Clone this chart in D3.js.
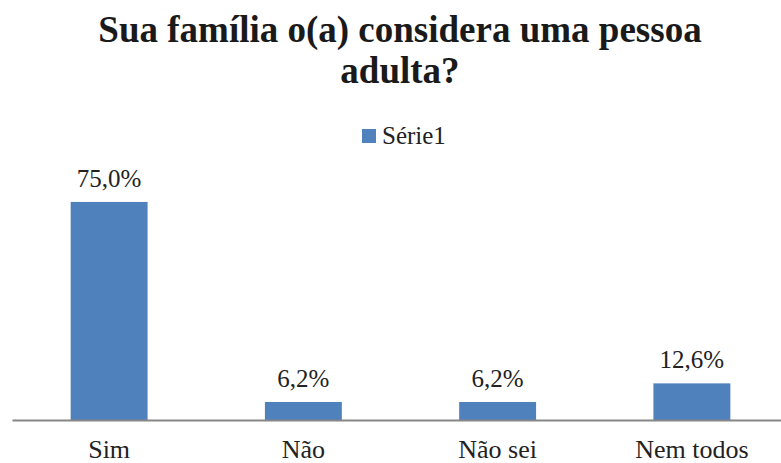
<!DOCTYPE html>
<html>
<head>
<meta charset="utf-8">
<script src="https://cdn.jsdelivr.net/npm/d3@7"></script>
<style>
  body { margin: 0; background: #fff; }
</style>
</head>
<body>
<script>
var categories = ["Sim", "Não", "Não sei", "Nem todos"];
var values = [75.0, 6.2, 6.2, 12.6];
var seriesName = "Série1";
var titleLines = ["Sua família o(a) considera uma pessoa", "adulta?"];

var font = "Liberation Serif";
var width = 781, height = 463;
var baseY = 420;

var svg = d3.select("body").append("svg")
    .attr("width", width)
    .attr("height", height);

// title
svg.append("g").selectAll("text")
  .data(titleLines)
  .enter().append("text")
    .attr("x", 400)
    .attr("y", function(d, i) { return 42 + i * 41; })
    .attr("text-anchor", "middle")
    .style("font-family", font)
    .style("font-size", "37px")
    .style("font-weight", "bold")
    .style("fill", "#1a1a1a")
    .text(function(d) { return d; });

// legend
var legend = svg.append("g").attr("transform", "translate(362,129)");
legend.append("rect")
    .attr("width", 14).attr("height", 14)
    .style("fill", "#4F81BD");
legend.append("text")
    .attr("x", 20).attr("y", 15)
    .style("font-family", font)
    .style("font-size", "25px")
    .style("fill", "#222")
    .text(seriesName);

var x = d3.scaleBand()
    .domain(categories)
    .range([12, 789])
    .paddingInner(0.604)
    .paddingOuter(0.302);

var y = d3.scaleLinear()
    .domain([0, 80])
    .range([baseY, baseY - 232.6]);

// bars
svg.selectAll(".bar")
  .data(values)
  .enter().append("rect")
    .attr("class", "bar")
    .attr("x", function(d, i) { return x(categories[i]); })
    .attr("width", x.bandwidth())
    .attr("y", function(d) { return y(d); })
    .attr("height", function(d) { return y(0) - y(d); })
    .style("fill", "#4F81BD");

// data labels
svg.selectAll(".lbl")
  .data(values)
  .enter().append("text")
    .attr("class", "lbl")
    .attr("x", function(d, i) { return x(categories[i]) + x.bandwidth() / 2; })
    .attr("y", function(d) { return y(d) - 15; })
    .attr("text-anchor", "middle")
    .style("font-family", font)
    .style("font-size", "25px")
    .style("fill", "#222")
    .text(function(d) { return d.toFixed(1).replace(".", ",") + "%"; });

// x axis
var xAxis = svg.append("g")
    .attr("transform", "translate(0," + baseY + ")")
    .call(d3.axisBottom(x).tickSize(0).tickPadding(0).tickSizeOuter(0));
xAxis.select(".domain")
    .style("stroke", "#868686")
    .style("stroke-width", 2);
xAxis.selectAll(".tick text")
    .attr("dy", null)
    .attr("y", 38)
    .style("font-family", font)
    .style("font-size", "26px")
    .style("fill", "#222");
</script>
</body>
</html>
